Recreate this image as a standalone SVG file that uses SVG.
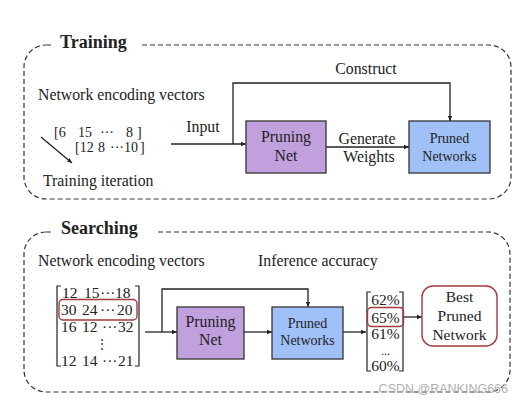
<svg xmlns="http://www.w3.org/2000/svg" width="519" height="400" viewBox="0 0 519 400">
<defs>
<marker id="ah" markerWidth="6" markerHeight="6" refX="5" refY="3" orient="auto" markerUnits="userSpaceOnUse"><path d="M0,0.8 L5,3 L0,5.2 Z" fill="#222"/></marker>
<style>
text{font-family:"Liberation Serif","Times New Roman",serif;fill:#222;}
.t{font-size:15.8px;}
.title{font-size:18px;font-weight:bold;}
.num{font-size:14px;}
.m{font-size:15.5px;}
.box{stroke:#333;stroke-width:1.3;}
.pn{fill:#c1a1dd;}
.pd{fill:#a0c1f7;}
.c{text-anchor:middle;}
.frame{fill:none;stroke:#333;stroke-width:1.2;stroke-dasharray:5 3;}
.ln{fill:none;stroke:#222;stroke-width:1.3;}
.red{fill:none;stroke:#a33a3a;stroke-width:1.4;}
.br{fill:none;stroke:#222;stroke-width:1.2;}
.wm{font-family:"Liberation Sans",Arial,sans-serif;font-size:12.5px;fill:#b0b0b0;text-anchor:end;}
</style>
</defs>
<rect width="519" height="400" fill="#fff"/>

<!-- frames -->
<g id="training-frame">
<rect class="frame" x="24" y="45" width="487" height="154" rx="22"/>
<rect x="52" y="30" width="90" height="26" fill="#fff"/>
<text class="title" x="60" y="48">Training</text>
</g>
<g id="searching-frame">
<rect class="frame" x="24" y="232" width="486" height="160" rx="22"/>
<rect x="52" y="216" width="104" height="26" fill="#fff"/>
<text class="title" x="61" y="234">Searching</text>
</g>

<!-- connectors -->
<g id="connectors">
<line class="ln" x1="41" y1="137" x2="72" y2="163" marker-end="url(#ah)"/>
<line class="ln" x1="171" y1="144" x2="246" y2="144" marker-end="url(#ah)"/>
<polyline class="ln" points="233,144 233,83 450,83 450,121" marker-end="url(#ah)"/>
<line class="ln" x1="326" y1="147" x2="409" y2="147" marker-end="url(#ah)"/>
<line class="ln" x1="145" y1="332" x2="177" y2="332" marker-end="url(#ah)"/>
<polyline class="ln" points="162,332 162,289 308,289 308,307" marker-end="url(#ah)"/>
<line class="ln" x1="244" y1="332" x2="272" y2="332" marker-end="url(#ah)"/>
<line class="ln" x1="343" y1="332" x2="366" y2="332" marker-end="url(#ah)"/>
<line class="ln" x1="403" y1="317" x2="422" y2="317" marker-end="url(#ah)"/>
</g>

<!-- training texts -->
<g id="training-labels">
<text class="t" x="38" y="100">Network encoding vectors</text>
<text class="t" x="43" y="186">Training iteration</text>
<text class="t c" x="203" y="132">Input</text>
<text class="t c" x="366" y="74">Construct</text>
<text class="t c" x="367" y="144">Generate</text>
<text class="t c" x="369" y="162">Weights</text>
</g>
<g id="training-vectors" class="num">
<text x="54" y="137">[6</text><text x="78" y="137">15</text><text x="100" y="137">···</text><text x="126" y="137">8</text><text x="137" y="137">]</text>
<text x="75" y="152">[12</text><text x="98" y="152">8</text><text x="110" y="152">···10</text><text x="140" y="152">]</text>
</g>

<g id="train-pruning-net">
<rect class="box pn" x="246" y="121" width="80" height="52"/>
<text class="t c" x="286" y="142">Pruning</text>
<text class="t c" x="286" y="161">Net</text>
</g>
<g id="train-pruned-networks">
<rect class="box pd" x="409" y="121" width="81" height="52"/>
<text class="c" font-size="14" x="449.5" y="143">Pruned</text>
<text class="c" font-size="14" x="449.5" y="161">Networks</text>
</g>

<!-- searching -->
<g id="searching-labels">
<text class="t" x="38" y="266">Network encoding vectors</text>
<text class="t" x="258" y="266">Inference accuracy</text>
</g>
<g id="encoding-matrix" class="m">
<path class="br" d="M61,286 H57 V366 H61 M135,286 H139 V366 H135"/>
<text x="62" y="298">12</text><text x="84" y="298">15</text><text x="100" y="298">···</text><text x="115" y="298">18</text>
<text x="61" y="315">30</text><text x="82" y="315">24</text><text x="100" y="315">···</text><text x="117" y="315">20</text>
<text x="61" y="332">16</text><text x="82" y="332">12</text><text x="102" y="332">···</text><text x="118" y="332">32</text>
<text x="96" y="348" font-size="12">⋮</text>
<text x="61" y="366">12</text><text x="82" y="366">14</text><text x="102" y="366">···</text><text x="118" y="366">21</text>
<rect class="red" x="59" y="299.5" width="78" height="20.5" rx="4"/>
</g>

<g id="search-pruning-net">
<rect class="box pn" x="177" y="307" width="67" height="52"/>
<text class="t c" x="210.5" y="327">Pruning</text>
<text class="t c" x="210.5" y="345">Net</text>
</g>
<g id="search-pruned-networks">
<rect class="box pd" x="272" y="307" width="71" height="52"/>
<text class="c" font-size="14" x="307.5" y="328">Pruned</text>
<text class="c" font-size="14" x="307.5" y="345">Networks</text>
</g>

<g id="accuracy-vector" class="m">
<path class="br" d="M371,292 H367 V371 H371 M399,292 H403 V371 H399"/>
<text class="c" x="385.5" y="305">62%</text>
<text class="c" x="385.5" y="323">65%</text>
<text class="c" x="385.5" y="339">61%</text>
<text class="c" x="385.5" y="355" font-size="12">...</text>
<text class="c" x="385.5" y="371">60%</text>
<rect class="red" x="367.5" y="307.5" width="36" height="19" rx="4"/>
</g>

<g id="best-pruned-network">
<rect x="422" y="286" width="75" height="60" rx="11" fill="#fff" stroke="#a33a3a" stroke-width="1.4"/>
<text class="m c" x="459.5" y="302">Best</text>
<text class="m c" x="459.5" y="321">Pruned</text>
<text class="m c" x="459.5" y="340">Network</text>
</g>

<text class="wm" x="508" y="393">CSDN @RANKING666</text>
</svg>
